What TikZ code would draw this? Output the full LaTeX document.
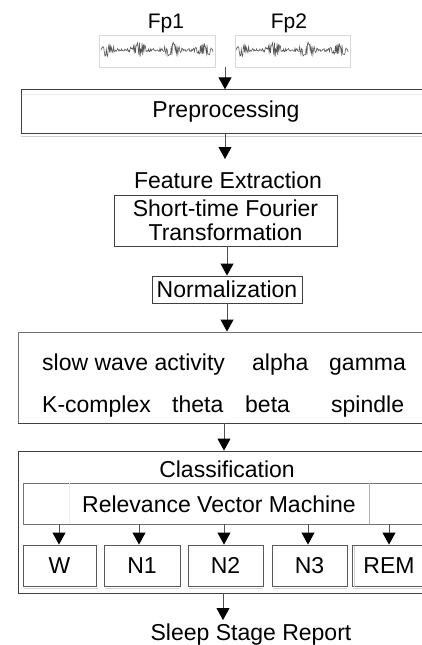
\documentclass[tikz,border=0pt]{standalone}
\usepackage{fontspec}
\setmainfont{Liberation Sans}
\usetikzlibrary{arrows.meta}
\definecolor{boxgray}{HTML}{404040}
\definecolor{shaftgray}{HTML}{505050}
\begin{document}
\begin{tikzpicture}[x=1pt,y=-1pt,
  lbl/.style={font=\fontsize{23}{24.5}\selectfont, inner sep=0pt, anchor=base},
  box/.style={draw=boxgray, line width=0.9pt, inner sep=0pt, font=\fontsize{23}{24.5}\selectfont, align=center},
  sigbox/.style={draw=black!15, line width=0.6pt, inner sep=0pt},
  arr/.style={draw=shaftgray, line width=0.9pt, -{Triangle[width=13pt,length=12pt,color=black]}},
  shadow/.style={draw=black!18, line width=1pt}]
\clip (0,0) rectangle (422,645);
\useasboundingbox (0,0) rectangle (422,645);

% inputs
\node[lbl, font=\fontsize{21}{24}\selectfont] (fp1) at (166,28) {Fp1};
\node[lbl, font=\fontsize{21}{24}\selectfont] (fp2) at (289,28) {Fp2};
\node[sigbox, minimum width=116pt, minimum height=32pt] (sig1) at (157,51) {};
\node[sigbox, minimum width=115pt, minimum height=32pt] (sig2) at (292.5,51) {};
\foreach \ox in {0,135}{
  \pgfmathsetseed{11}
  \draw[black!65, line width=0.6pt, xshift=\ox pt] plot[domain=101:213, samples=170]
    (\x, {50 + (1.5 + 6.5*(0.5+0.5*sin(\x*11))^2)*rand});
}
\coordinate (sigout) at (225,67);

% preprocessing
\node[box, minimum width=410pt, minimum height=43.5pt] (pre) at (226,111.5) {Preprocessing};
\draw[shadow] (pre.south west) ++(0,3) -- ++(412,0);
\draw[draw=black!8, line width=0.8pt] (pre.north west) ++(1,5) -- ++(410,0);

% feature extraction
\coordinate (fetop) at (225,159);
\node[lbl] (fe) at (228,188) {Feature Extraction};
\node[box, minimum width=223pt, minimum height=51pt] (stft) at (225.5,220.5) {Short-time Fourier\\Transformation};
\node[box, minimum width=150pt, minimum height=27pt] (norm) at (227,289.5) {Normalization};

% features
\node[box, draw=black!55, minimum width=414pt, minimum height=91pt] (feat) at (225,377.5) {};
\draw[boxgray, line width=0.9pt] (feat.south west) -- (feat.south east);
\node[lbl, anchor=base west] (swa) at (42,370) {slow wave activity};
\node[lbl, anchor=base west] (alpha) at (252,370) {alpha};
\node[lbl, anchor=base west] (gamma) at (329,370) {gamma};
\node[lbl, anchor=base west] (kc) at (42,412) {K-complex};
\node[lbl, anchor=base west] (theta) at (172,412) {theta};
\node[lbl, anchor=base west] (beta) at (245,412) {beta};
\node[lbl, anchor=base west] (spindle) at (331,412) {spindle};

% classification
\node[box, minimum width=414pt, minimum height=142pt] (cls) at (225,522) {};
\node[lbl] (clst) at (227,477) {Classification};
\node[box, draw=black!55, minimum width=404pt, minimum height=41pt] (rvm) at (225,503.5) {};
\draw[black!6, line width=0.8pt] (69,483) -- (69,524);
\draw[black!30, line width=0.8pt] (369,483) -- (369,524);
\node[lbl] (rvmt) at (219,512) {Relevance Vector Machine};

\node[box, draw=black!65, minimum width=73pt, minimum height=41pt] (W) at (59.5,565.5) {W};
\node[box, draw=black!65, minimum width=76pt, minimum height=41pt] (N1) at (142,565.5) {N1};
\node[box, draw=black!65, minimum width=75pt, minimum height=41pt] (N2) at (225.5,565.5) {N2};
\node[box, draw=black!65, minimum width=75pt, minimum height=41pt] (N3) at (309.5,565.5) {N3};
\node[box, draw=black!65, minimum width=74pt, minimum height=41pt] (REM) at (389,565.5) {REM};
\foreach \s in {W,N1,N2,N3,REM}{
  \draw[shadow, line width=0.9pt] (\s.south west) ++(1,1.5) -- ++(74,0);
}
\draw[shadow, line width=0.9pt] (REM.north west) ++(2.5,1) -- ++(0,41);

\coordinate (rep) at (223,620);
\node[lbl] (report) at (251,640) {Sleep Stage Report};

% connectors
\draw[arr] (sigout) -- (sigout |- pre.north);
\draw[arr] (pre.south -| fetop) -- (fetop);
\draw[arr] (stft.south -| norm.north) -- (norm.north);
\draw[arr] (norm.south) -- (norm.south |- feat.north);
\draw[arr] (feat.south -| 224,0) -- (cls.north -| 224,0);
\foreach \s/\xx in {W/59,N1/139,N2/224,N3/308,REM/389}{
  \draw[arr] (rvm.south -| \xx,0) -- (\s.north -| \xx,0);
}
\draw[arr] (cls.south -| rep) -- (rep);
\end{tikzpicture}
\end{document}
